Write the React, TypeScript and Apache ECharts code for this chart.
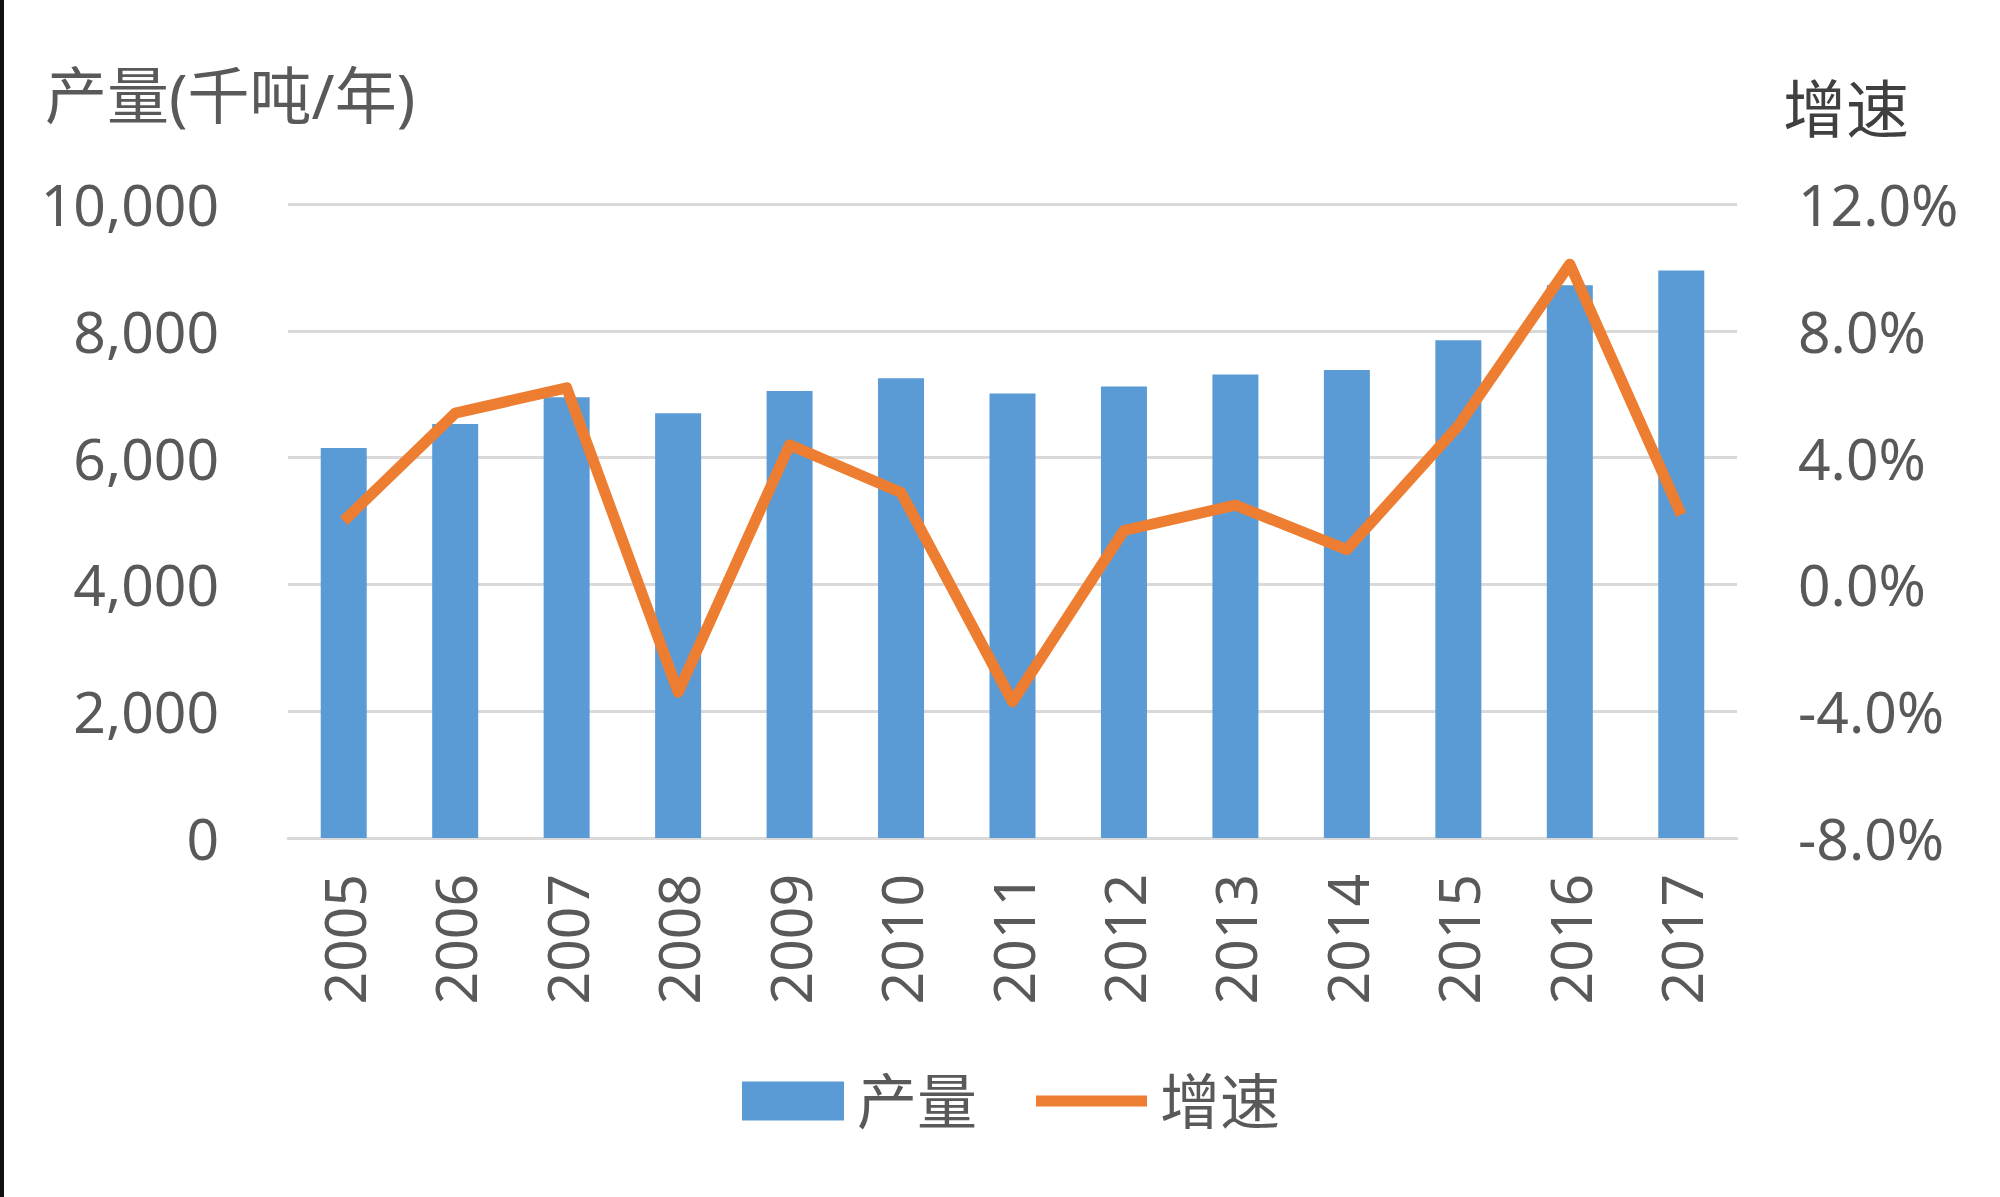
import React, { useEffect, useRef } from "react";
import * as echarts from "echarts";

const years = ["2005","2006","2007","2008","2009","2010","2011","2012","2013","2014","2015","2016","2017"];
const output = [6150, 6530, 6950, 6700, 7050, 7250, 7010, 7120, 7310, 7380, 7850, 8720, 8950];
const growth = [2.0, 5.4, 6.2, -3.4, 4.4, 2.9, -3.7, 1.7, 2.5, 1.1, 5.0, 10.1, 2.2];
const leftTitle = "产量(千吨/年)";
const rightTitle = "增速";

const FONT = '"Noto Sans", "Noto Sans CJK SC", sans-serif';
const TXT = "#595959";
const BLUE = "#5B9BD5";
const ORANGE = "#ED7D31";

export default function App() {
  const ref = useRef<HTMLDivElement>(null);
  useEffect(() => {
    if (!ref.current) return;
    const chart = echarts.init(ref.current, null, { renderer: "svg" });
    chart.setOption({
      animation: false,
      backgroundColor: "#ffffff",
      textStyle: { fontFamily: FONT },
      grid: { left: 288, right: 263, top: 204, bottom: 359, containLabel: false },
      legend: [
        {
          data: [{ name: "产量", icon: "rect" }],
          left: 737,
          top: 1066,
          itemWidth: 102,
          itemHeight: 39,
          textStyle: { fontSize: 60, color: TXT, fontFamily: FONT, padding: [0, 0, 0, 8] },
        },
        {
          data: [{ name: "增速", icon: "rect" }],
          left: 1031,
          top: 1066,
          itemWidth: 111,
          itemHeight: 11,
          textStyle: { fontSize: 60, color: TXT, fontFamily: FONT, padding: [0, 0, 0, 8] },
        },
      ],
      graphic: [
        { type: "rect", left: 0, top: 0, shape: { width: 4, height: 1197 }, style: { fill: "#111" } },
        {
          type: "text",
          left: 45,
          top: 64,
          style: { text: leftTitle, fontSize: 62, fill: TXT, fontFamily: FONT },
        },
        {
          type: "text",
          left: 1783,
          top: 76,
          style: { text: rightTitle, fontSize: 63, fill: "#404040", fontFamily: FONT },
        },
      ],
      xAxis: {
        type: "category",
        data: years,
        axisTick: { show: false },
        axisLine: { lineStyle: { color: "#D9D9D9", width: 3 } },
        axisLabel: { rotate: 90, fontSize: 57, color: TXT, margin: 36, fontFamily: FONT },
      },
      yAxis: [
        {
          type: "value",
          min: 0,
          max: 10000,
          interval: 2000,
          axisLine: { show: false },
          axisTick: { show: false },
          splitLine: { lineStyle: { color: "#D9D9D9", width: 3 } },
          axisLabel: {
            fontSize: 57,
            color: TXT,
            margin: 69,
            fontFamily: FONT,
            formatter: (v: number) => v.toLocaleString("en-US"),
          },
        },
        {
          type: "value",
          min: -8,
          max: 12,
          interval: 4,
          axisLine: { show: false },
          axisTick: { show: false },
          splitLine: { show: false },
          axisLabel: {
            fontSize: 57,
            color: TXT,
            margin: 61,
            fontFamily: FONT,
            formatter: (v: number) => `${v.toFixed(1)}%`,
          },
        },
      ],
      series: [
        {
          name: "产量",
          type: "bar",
          data: output,
          barWidth: 46,
          itemStyle: { color: BLUE },
        },
        {
          name: "增速",
          type: "line",
          yAxisIndex: 1,
          data: growth,
          symbol: "none",
          lineStyle: { color: ORANGE, width: 11, join: "round" },
          itemStyle: { color: ORANGE },
          z: 5,
        },
      ],
    });
    return () => chart.dispose();
  }, []);
  return (
    <div
      ref={ref}
      style={{ position: "fixed", left: 0, top: 0, width: 2000, height: 1197 }}
    />
  );
}
